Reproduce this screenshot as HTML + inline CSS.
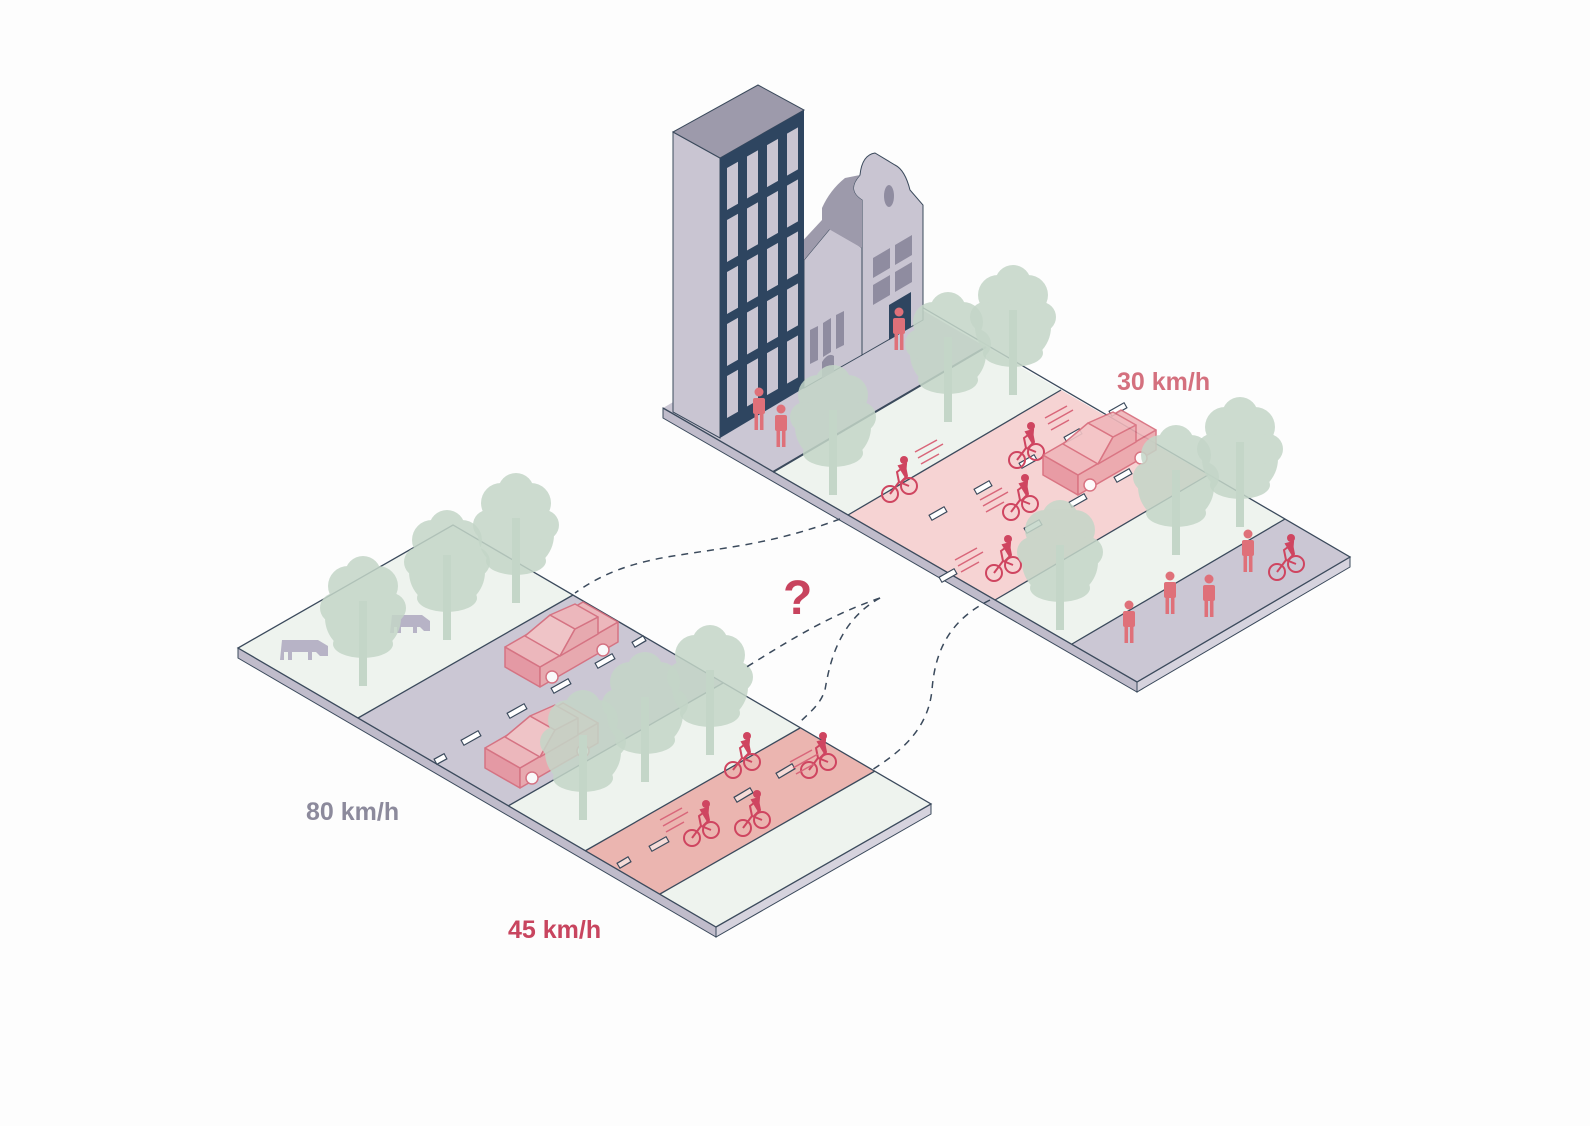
<!DOCTYPE html>
<html><head><meta charset="utf-8"><style>
html,body{margin:0;padding:0;background:#fdfdfd;}
svg{display:block}
text{font-family:"Liberation Sans",sans-serif;font-weight:bold}
</style></head><body>
<svg width="1590" height="1126" viewBox="0 0 1590 1126" xmlns="http://www.w3.org/2000/svg">
<defs>
 <g id="tree">
  <rect x="-4" y="-85" width="8" height="85" fill="#c4d6c8"/>
  <g fill="#c4d6c8" opacity="0.85">
   <ellipse cx="0" cy="-68" rx="38" ry="36"/>
   <circle cx="-15" cy="-100" r="20"/><circle cx="15" cy="-100" r="20"/>
   <circle cx="0" cy="-112" r="18"/>
   <circle cx="-28" cy="-78" r="15"/><circle cx="28" cy="-78" r="15"/>
   <ellipse cx="0" cy="-42" rx="30" ry="14"/>
  </g>
 </g>
 <g id="car" stroke="#d76b7b" stroke-width="1.5" stroke-linejoin="round">
  <polygon points="0,0 35,20 35,0 0,-20" fill="#e7959f"/>
  <polygon points="35,20 113,-25 113,-45 35,0" fill="#eba6ac"/>
  <polygon points="0,-20 35,0 113,-45 78,-65" fill="#f0b6ba"/>
  <polygon points="20,-31 55,-11 70,-38 45,-52" fill="#f4c4c6"/>
  <polygon points="55,-11 93,-33 93,-50 70,-38" fill="#eba6ac"/>
  <polygon points="45,-52 70,-38 93,-50 70,-63" fill="#f0b6ba"/>
  <circle cx="47" cy="10" r="6" fill="#fff"/><circle cx="98" cy="-17" r="6" fill="#fff"/>
 </g>
 <g id="bike" fill="none" stroke="#cf4560" stroke-width="2">
  <circle cx="-9" cy="0" r="8"/><circle cx="10" cy="-8" r="8"/>
  <path d="M-9,0 L0,-12 L10,-8 M0,-12 L-2,-22 L6,-28 L8,-18 L2,-12"/>
  <circle cx="5" cy="-34" r="4" fill="#cf4560" stroke="none"/>
  <path d="M0,-28 L7,-30 L6,-18 Z" fill="#cf4560"/>
 </g>
 <g id="speed" stroke="#d9667a" stroke-width="1.5">
  <path d="M0,0 L22,-12 M3,6 L28,-8 M6,12 L24,2"/>
 </g>
 <g id="person" fill="#df7079">
  <circle cx="0" cy="-38" r="4.5"/>
  <rect x="-6" y="-32" width="12" height="16" rx="2"/>
  <rect x="-4.5" y="-17" width="3.5" height="17"/><rect x="1" y="-17" width="3.5" height="17"/>
 </g>
</defs>

<!-- RIGHT SLAB -->
<polygon points="663,408 1137,682 1137,692 663,418" fill="#c0bccb" stroke="#3b4a5c" stroke-width="1"/>
<polygon points="1137,682 1350,557 1350,567 1137,692" fill="#d6d3de" stroke="#3b4a5c" stroke-width="1"/>
<polygon points="663,408 773,472 986,347 876,283" fill="#cbc7d4"/>
<polygon points="773,472 848,515 1061,390 986,347" fill="#eef3ee"/>
<polygon points="848,515 995,600 1208,475 1061,390" fill="#f6d3d3"/>
<polygon points="995,600 1072,644 1285,519 1208,475" fill="#eef3ee"/>
<polygon points="1072,644 1137,682 1350,557 1285,519" fill="#cbc7d4"/>
<g stroke="#3b4a5c" stroke-width="1.3" fill="none">
 <polyline points="663,408 1137,682 1350,557 920,306"/>
 <line x1="773" y1="472" x2="986" y2="347" stroke-width="2"/>
 <line x1="848" y1="515" x2="1061" y2="390"/>
 <line x1="995" y1="600" x2="1208" y2="475"/>
 <line x1="1072" y1="644" x2="1285" y2="519"/>
</g>
<g stroke="#3b4a5c" stroke-width="7">
 <line x1="930" y1="518" x2="946" y2="509"/><line x1="975" y1="492" x2="991" y2="483"/>
 <line x1="1020" y1="466" x2="1036" y2="457"/><line x1="1065" y1="440" x2="1081" y2="431"/>
 <line x1="1110" y1="414" x2="1126" y2="405"/>
 <line x1="1115" y1="480" x2="1131" y2="471"/><line x1="1070" y1="505" x2="1086" y2="496"/>
 <line x1="1025" y1="531" x2="1041" y2="522"/><line x1="940" y1="580" x2="956" y2="571"/>
</g>
<g stroke="#fff" stroke-width="4.5">
 <line x1="931" y1="517.5" x2="945" y2="509.5"/><line x1="976" y1="491.5" x2="990" y2="483.5"/>
 <line x1="1021" y1="465.5" x2="1035" y2="457.5"/><line x1="1066" y1="439.5" x2="1080" y2="431.5"/>
 <line x1="1111" y1="413.5" x2="1125" y2="405.5"/>
 <line x1="1116" y1="479.5" x2="1130" y2="471.5"/><line x1="1071" y1="504.5" x2="1085" y2="496.5"/>
 <line x1="1026" y1="530.5" x2="1040" y2="522.5"/><line x1="941" y1="579.5" x2="955" y2="571.5"/>
</g>

<!-- BUILDINGS -->
<polygon points="804,388 804,260 833,225 862,248 862,355" fill="#c9c5d2" stroke="#3b4a5c" stroke-width="1"/>
<polygon points="804,260 833,225 822,220 796,248" fill="#9d9aab"/>
<polygon points="810,330 818,326 818,360 810,364" fill="#8f8ca0"/>
<polygon points="823,323 831,318 831,352 823,357" fill="#8f8ca0"/>
<polygon points="836,315 844,311 844,345 836,349" fill="#8f8ca0"/>
<path d="M822,378 L822,362 Q828,352 834,356 L834,372 Z" fill="#8f8ca0"/>
<polygon points="822,225 862,248 862,230 822,208" fill="#9d9aab"/>
<path d="M862,355 L923,320 L923,205 L910,190 Q905,170 895,165 L875,153 Q862,155 860,175 Q846,190 862,200 Z" fill="#c9c5d2" stroke="#3b4a5c" stroke-width="1"/>
<path d="M822,225 L862,248 L862,200 Q846,190 860,175 L845,178 Q830,190 822,208 Z" fill="#9d9aab"/>
<ellipse cx="889" cy="196" rx="5" ry="11" fill="#8f8ca0"/>
<polygon points="873,258 890,248 890,268 873,278" fill="#8f8ca0"/>
<polygon points="895,245 912,235 912,255 895,265" fill="#8f8ca0"/>
<polygon points="873,285 890,275 890,295 873,305" fill="#8f8ca0"/>
<polygon points="895,272 912,262 912,282 895,292" fill="#8f8ca0"/>
<polygon points="889,340 889,305 911,292 911,327" fill="#2e4560"/>
<polygon points="673,132 720,158 720,438 673,412" fill="#c9c5d2" stroke="#3b4a5c" stroke-width="1"/>
<polygon points="673,132 758,85 804,110 720,158" fill="#9d9aab" stroke="#3b4a5c" stroke-width="1"/>
<polygon points="720,158 804,110 804,388 720,438" fill="#2e4560"/>
<g transform="translate(720,158) matrix(1,-0.572,0,1,0,0)" fill="#c9c5d2">
 <rect x="7" y="14" width="11" height="42"/><rect x="27" y="14" width="11" height="42"/><rect x="47" y="14" width="11" height="42"/><rect x="67" y="14" width="11" height="42"/>
 <rect x="7" y="66" width="11" height="42"/><rect x="27" y="66" width="11" height="42"/><rect x="47" y="66" width="11" height="42"/><rect x="67" y="66" width="11" height="42"/>
 <rect x="7" y="118" width="11" height="42"/><rect x="27" y="118" width="11" height="42"/><rect x="47" y="118" width="11" height="42"/><rect x="67" y="118" width="11" height="42"/>
 <rect x="7" y="170" width="11" height="42"/><rect x="27" y="170" width="11" height="42"/><rect x="47" y="170" width="11" height="42"/><rect x="67" y="170" width="11" height="42"/>
 <rect x="7" y="222" width="11" height="42"/><rect x="27" y="222" width="11" height="42"/><rect x="47" y="222" width="11" height="42"/><rect x="67" y="222" width="11" height="42"/>
</g>

<use href="#person" x="759" y="430"/><use href="#person" x="781" y="447"/>
<use href="#person" x="899" y="350"/>
<use href="#person" x="1129" y="643"/><use href="#person" x="1170" y="614"/>
<use href="#person" x="1209" y="617"/><use href="#person" x="1248" y="572"/>
<use href="#bike" x="1286" y="572"/>
<use href="#bike" x="899" y="494"/><use href="#speed" x="915" y="452"/>
<use href="#bike" x="1026" y="460"/><use href="#speed" x="1045" y="418"/>
<use href="#bike" x="1020" y="512"/><use href="#speed" x="980" y="500"/>
<use href="#bike" x="1003" y="573"/><use href="#speed" x="955" y="560"/>
<use href="#car" x="1043" y="475" opacity="0.9"/>
<use href="#tree" x="833" y="495"/><use href="#tree" x="948" y="422"/><use href="#tree" x="1013" y="395"/>
<use href="#tree" x="1060" y="630"/><use href="#tree" x="1176" y="555"/><use href="#tree" x="1240" y="527"/>

<!-- LEFT SLAB -->
<polygon points="238,648 716,927 716,937 238,658" fill="#c0bccb" stroke="#3b4a5c" stroke-width="1"/>
<polygon points="716,927 931,804 931,814 716,937" fill="#d6d3de" stroke="#3b4a5c" stroke-width="1"/>
<polygon points="238,648 358,718 573,595 453,525" fill="#eef3ee"/>
<polygon points="358,718 508,806 723,683 573,595" fill="#cbc7d4"/>
<polygon points="508,806 585,851 800,728 723,683" fill="#eef3ee"/>
<polygon points="585,851 660,894 875,771 800,728" fill="#ebb5b0"/>
<polygon points="660,894 716,927 931,804 875,771" fill="#eef3ee"/>
<g stroke="#3b4a5c" stroke-width="1.3" fill="none">
 <polygon points="238,648 716,927 931,804 453,525"/>
 <line x1="358" y1="718" x2="573" y2="595"/>
 <line x1="508" y1="806" x2="723" y2="683"/>
 <line x1="585" y1="851" x2="800" y2="728"/>
 <line x1="660" y1="894" x2="875" y2="771"/>
</g>
<g stroke="#3b4a5c" stroke-width="7">
 <line x1="462" y1="743" x2="480" y2="733"/><line x1="508" y1="716" x2="526" y2="706"/>
 <line x1="552" y1="691" x2="570" y2="681"/><line x1="596" y1="666" x2="614" y2="656"/>
 <line x1="633" y1="645" x2="645" y2="638"/><line x1="435" y1="762" x2="446" y2="756"/>
 <line x1="650" y1="849" x2="668" y2="839"/><line x1="735" y1="800" x2="752" y2="790"/>
 <line x1="618" y1="866" x2="630" y2="859"/><line x1="777" y1="776" x2="794" y2="766"/>
</g>
<g stroke="#fff" stroke-width="4.5">
 <line x1="463" y1="742.5" x2="479" y2="733.5"/><line x1="509" y1="715.5" x2="525" y2="706.5"/>
 <line x1="553" y1="690.5" x2="569" y2="681.5"/><line x1="597" y1="665.5" x2="613" y2="656.5"/>
 <line x1="634" y1="644.5" x2="644" y2="638.5"/><line x1="436" y1="761.5" x2="445" y2="756.5"/>
</g>
<g stroke="#f6dcd8" stroke-width="4.5">
 <line x1="651" y1="848.5" x2="667" y2="839.5"/><line x1="736" y1="799.5" x2="751" y2="790.5"/>
 <line x1="619" y1="865.5" x2="629" y2="859.5"/><line x1="778" y1="775.5" x2="793" y2="766.5"/>
</g>
<g fill="#b7b3c6">
 <path d="M282,640 h36 l10,6 v10 h-8 l-4,-4 h-4 v8 h-4 v-8 h-16 v8 h-4 v-8 h-4 v8 h-4 z"/>
 <path d="M392,615 h30 l8,6 v10 h-6 l-4,-4 h-3 v6 h-4 v-6 h-12 v6 h-4 v-6 h-3 v6 h-4 z"/>
</g>
<use href="#car" x="505" y="667" opacity="0.9"/>
<use href="#car" x="485" y="768" opacity="0.9"/>
<use href="#bike" x="742" y="770"/>
<use href="#bike" x="818" y="770"/><use href="#speed" x="790" y="762"/>
<use href="#bike" x="701" y="838"/><use href="#speed" x="660" y="820"/>
<use href="#bike" x="752" y="828"/>
<use href="#tree" x="363" y="686"/><use href="#tree" x="447" y="640"/><use href="#tree" x="516" y="603"/>
<use href="#tree" x="583" y="820"/><use href="#tree" x="645" y="782"/><use href="#tree" x="710" y="755"/>

<g fill="none" stroke="#3b4a5c" stroke-width="1.5" stroke-dasharray="7,6">
 <path d="M840,519 C770,545 720,548 680,555 C630,562 600,575 575,593"/>
 <path d="M880,598 C830,615 790,640 745,668"/>
 <path d="M880,598 C840,620 830,660 825,690 C820,705 810,712 800,722"/>
 <path d="M990,600 C950,620 935,650 932,690 C928,730 900,752 872,770"/>
</g>

<text x="306" y="820" font-size="25" fill="#8c8a9c">80 km/h</text>
<text x="508" y="938" font-size="25" fill="#c8455f">45 km/h</text>
<text x="1117" y="390" font-size="25" fill="#d4707e">30 km/h</text>
<text x="783" y="614" font-size="48" fill="#c8435e">?</text>
</svg>
</body></html>
